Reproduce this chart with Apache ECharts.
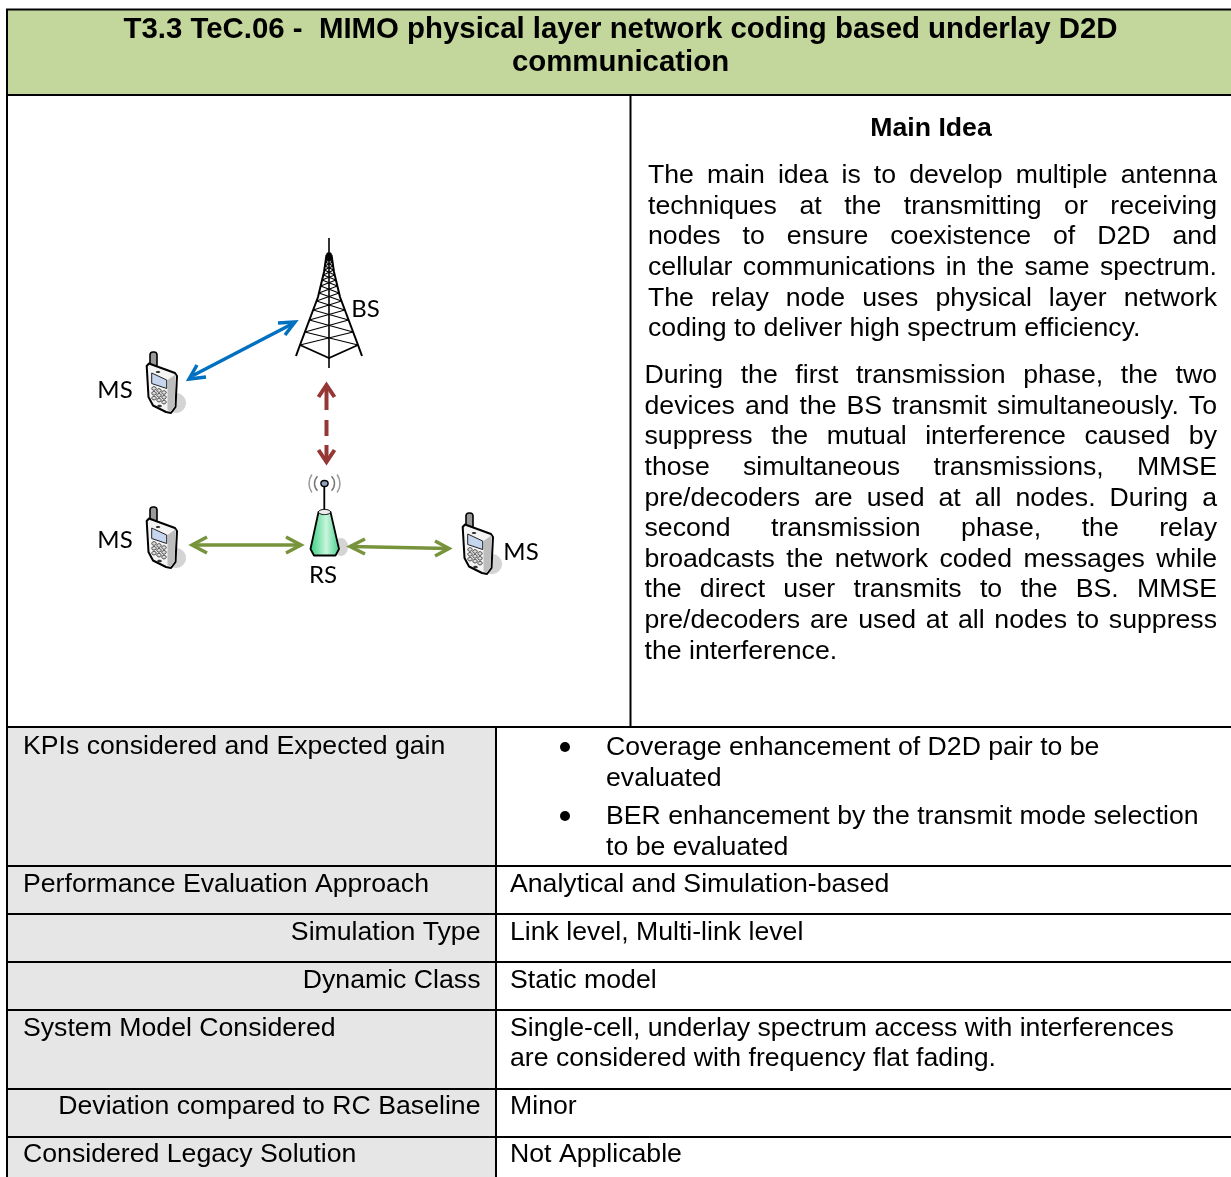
<!DOCTYPE html>
<html lang="en">
<head>
<meta charset="UTF-8">
<title>T3.3 TeC.06</title>
<script src="https://cdn.jsdelivr.net/npm/echarts@6/dist/echarts.min.js"></script>
<style>
html, body { margin: 0; padding: 0; background: #fff; }
#main { width: 1231px; height: 1177px; }
</style>
</head>
<body>
<div id="main"></div>
<script>
// texts of the sheet
var titleLines = ['T3.3 TeC.06 -  MIMO physical layer network coding based underlay D2D', 'communication'];
var ideaHeading = 'Main Idea';
var ideaFirst = [
  'The main idea is to develop multiple antenna',
  'techniques at the transmitting or receiving',
  'nodes to ensure coexistence of D2D and',
  'cellular communications in the same spectrum.',
  'The relay node uses physical layer network',
  'coding to deliver high spectrum efficiency.'
];
var ideaSecond = [
  'During the first transmission phase, the two',
  'devices and the BS transmit simultaneously. To',
  'suppress the mutual interference caused by',
  'those simultaneous transmissions, MMSE',
  'pre/decoders are used at all nodes. During a',
  'second transmission phase, the relay',
  'broadcasts the network coded messages while',
  'the direct user transmits to the BS. MMSE',
  'pre/decoders are used at all nodes to suppress',
  'the interference.'
];
var rowLabels = ['KPIs considered and Expected gain', 'Performance Evaluation Approach', 'Simulation Type', 'Dynamic Class', 'System Model Considered', 'Deviation compared to RC Baseline', 'Considered Legacy Solution'];
var rowAligns = ['left', 'left', 'right', 'right', 'left', 'right', 'left'];
var rowBaselines = [754, 892, 940, 988, 1036, 1114, 1162];
var rowValues = [
  ['Analytical and Simulation-based'],
  ['Link level, Multi-link level'],
  ['Static model'],
  ['Single-cell, underlay spectrum access with interferences', 'are considered with frequency flat fading.'],
  ['Minor'],
  ['Not Applicable']
];
var bulletLines = ['Coverage enhancement of D2D pair to be', 'evaluated', 'BER enhancement by the transmit mode selection', 'to be evaluated'];
var bulletBaselines = [755, 786, 824, 855];
var rowEdges = [727, 866, 914, 962, 1010, 1089, 1137, 1177];

// diagram labels and where the phones sit
var nodeLabels = [['MS', 115, 390], ['BS', 365.5, 309], ['MS', 115, 540], ['MS', 521, 552], ['RS', 323, 575]];
var phoneOffsets = [[0, 0], [0, 155], [316, 161]];
var towerLevels = [258, 262, 266, 270, 275, 280, 286, 293, 301, 310, 320, 332, 345];
var towerLeg = [[255, 2.5], [272, 5], [297, 11], [345, 29], [356, 33]];

var FONT = '"Liberation Sans", Arial, sans-serif';
var bodyFont = '26.67px ' + FONT;
var boldFont = 'bold 26.67px ' + FONT;
var titleFont = 'bold 29.4px ' + FONT;
var measure = document.createElement('canvas').getContext('2d');

var els = [];

function rect(x, y, w, h, fill) {
  els.push({ type: 'rect', shape: { x: x, y: y, width: w, height: h }, style: { fill: fill }, silent: true });
}
function line(x1, y1, x2, y2, color, width, dash) {
  var st = { stroke: color, lineWidth: width, lineCap: 'butt' };
  if (dash) st.lineDash = dash;
  els.push({ type: 'line', shape: { x1: x1, y1: y1, x2: x2, y2: y2 }, style: st, silent: true });
}
// y is the baseline; zrender only knows top/middle/bottom so go through middle
function text(str, x, y, font, align) {
  var size = parseFloat(font.replace('bold ', ''));
  els.push({ type: 'text', style: { text: str, x: x, y: y - size * 0.27, font: font, fill: '#000', textAlign: align || 'left', textVerticalAlign: 'middle' }, silent: true });
}
// Word style justify: spread the words of one line between left and right
function justified(str, left, right, y, font) {
  var words = str.split(' ');
  measure.font = font;
  var total = 0;
  words.forEach(function (w) { total += measure.measureText(w).width; });
  var gap = (right - left - total) / (words.length - 1);
  var x = left;
  words.forEach(function (w) {
    text(w, x, y, font);
    x += measure.measureText(w).width + gap;
  });
}
function poly(points, fill, stroke, width) {
  return { type: 'polygon', shape: { points: points }, style: { fill: fill || 'none', stroke: stroke || 'none', lineWidth: width || 1, lineJoin: 'round' }, silent: true };
}
function open(points, stroke, width) {
  return { type: 'polyline', shape: { points: points }, style: { fill: 'none', stroke: stroke, lineWidth: width, lineJoin: 'miter', lineCap: 'butt' }, silent: true };
}

// table
rect(8, 10, 1223, 85, '#C3D69B');
var r;
for (r = 0; r < 7; r++) rect(8, rowEdges[r], 488, rowEdges[r + 1] - rowEdges[r], '#E6E6E6');
line(7, 9, 7, 1177, '#000', 2);
line(6, 9.5, 1231, 9.5, '#000', 2);
line(7, 95, 1231, 95, '#000', 2);
rowEdges.slice(0, 7).forEach(function (y) { line(7, y, 1231, y, '#000', 2); });
line(630.5, 95, 630.5, 727, '#000', 2);
line(496, 727, 496, 1177, '#000', 2);

// title and main idea
text(titleLines[0], 620.5, 38, titleFont, 'center');
text(titleLines[1], 620.5, 71, titleFont, 'center');
text(ideaHeading, 931, 136, boldFont, 'center');
ideaFirst.forEach(function (s, i) {
  var y = 183 + i * 30.6;
  if (i === ideaFirst.length - 1) text(s, 648, y, bodyFont);
  else justified(s, 648, 1217, y, bodyFont);
});
ideaSecond.forEach(function (s, i) {
  var y = 383 + i * 30.6;
  if (i === ideaSecond.length - 1) text(s, 644.5, y, bodyFont);
  else justified(s, 644.5, 1217, y, bodyFont);
});

// rows
rowLabels.forEach(function (s, i) {
  if (rowAligns[i] === 'right') text(s, 480.5, rowBaselines[i], bodyFont, 'right');
  else text(s, 23, rowBaselines[i], bodyFont);
});
bulletLines.forEach(function (s, i) { text(s, 606, bulletBaselines[i], bodyFont); });
[747, 816].forEach(function (y) {
  els.push({ type: 'circle', shape: { cx: 565, cy: y, r: 5 }, style: { fill: '#000' }, silent: true });
});
rowValues.forEach(function (lines, i) {
  lines.forEach(function (s, j) { text(s, 510, rowBaselines[i + 1] + j * 30, bodyFont); });
});

// phone icon, drawn at the first phone's place and moved by an offset
function phone(dx, dy) {
  var kids = [];
  kids.push({ type: 'ellipse', shape: { cx: 176, cy: 403, rx: 10, ry: 10 }, style: { fill: '#D4D4D4' }, silent: true });
  kids.push({ type: 'rect', shape: { x: 150, y: 352, width: 7, height: 16, r: 3 }, style: { fill: '#9A9A9A', stroke: '#000', lineWidth: 1.6 }, silent: true });
  kids.push(poly([[146.7, 366], [149, 363.5], [175, 373], [177, 376], [175.5, 407], [171, 413], [166, 412], [153, 405.5], [148.5, 397]], '#F4F4F4', '#000', 2));
  kids.push(poly([[167.5, 380], [175.5, 374.5], [174.5, 406.5], [170.5, 411.5], [167.5, 410]], '#BDBDBD', null));
  kids.push(poly([[151.7, 373], [166.7, 380], [166.7, 388.5], [151.7, 383.5]], '#C5D6EE', '#222', 1));
  [[154, 388.5], [159, 390.5], [164, 392.5]].forEach(function (p) {
    for (var k = 0; k < 3; k++) {
      kids.push({ type: 'ellipse', shape: { cx: p[0], cy: p[1] + k * 4.8, rx: 2.2, ry: 1.8 }, style: { fill: '#DDD', stroke: '#333', lineWidth: 0.9 }, silent: true });
    }
  });
  kids.push({ type: 'ellipse', shape: { cx: 159.5, cy: 406, rx: 2.4, ry: 1.3 }, style: { fill: '#333' }, silent: true });
  kids.push({ type: 'ellipse', shape: { cx: 158, cy: 372, rx: 2.2, ry: 1 }, style: { fill: '#333' }, silent: true });
  els.push({ type: 'group', x: dx, y: dy, children: kids, silent: true });
}
phoneOffsets.forEach(function (o) { phone(o[0], o[1]); });

// tower, half width of the legs read at a few heights
function legHalf(y) {
  for (var i = 0; i < towerLeg.length - 1; i++) {
    var a = towerLeg[i], b = towerLeg[i + 1];
    if (y <= b[0]) return a[1] + (b[1] - a[1]) * (y - a[0]) / (b[0] - a[0]);
  }
  return towerLeg[towerLeg.length - 1][1];
}
var TX = 329;
line(TX, 238, TX, 368, '#000', 1.6);
els.push(open(towerLeg.map(function (p) { return [TX - p[1], p[0]]; }), '#000', 2));
els.push(open(towerLeg.map(function (p) { return [TX + p[1], p[0]]; }), '#000', 2));
els.push(poly([[TX - 3, 260], [TX - 2, 253], [TX + 2, 253], [TX + 3, 260]], '#000', '#000', 1));
towerLevels.forEach(function (y, i) {
  if (i === towerLevels.length - 1) return;
  var yn = towerLevels[i + 1];
  line(TX - legHalf(y), y, TX + legHalf(yn), yn, '#000', 1.1);
  line(TX + legHalf(y), y, TX - legHalf(yn), yn, '#000', 1.1);
});
els.push(open([[TX - legHalf(345), 345], [TX, 358], [TX + legHalf(345), 345]], '#000', 1.8));

// relay station
els.push({ type: 'ellipse', shape: { cx: 341, cy: 547, rx: 7, ry: 9 }, style: { fill: '#D4D4D4' }, silent: true });
line(324.3, 486, 324.3, 511, '#000', 1.8);
els.push({ type: 'ellipse', shape: { cx: 324.5, cy: 483.5, rx: 3.6, ry: 3 }, style: { fill: '#8FA3C0', stroke: '#000', lineWidth: 1.4 }, silent: true });
[[10, 0.8, '#777'], [15.5, 0.62, '#999']].forEach(function (a) {
  els.push({ type: 'arc', shape: { cx: 324.5, cy: 483.5, r: a[0], startAngle: -a[1], endAngle: a[1] }, style: { fill: 'none', stroke: a[2], lineWidth: 1.5 }, silent: true });
  els.push({ type: 'arc', shape: { cx: 324.5, cy: 483.5, r: a[0], startAngle: Math.PI - a[1], endAngle: Math.PI + a[1] }, style: { fill: 'none', stroke: a[2], lineWidth: 1.5 }, silent: true });
});
els.push({
  type: 'polygon',
  shape: { points: [[318.5, 512], [330.5, 512], [339, 549], [335.5, 555.5], [314, 555.5], [310.5, 549]] },
  style: {
    stroke: '#000', lineWidth: 1.8, lineJoin: 'round',
    fill: { type: 'linear', x: 0, y: 0, x2: 1, y2: 0, colorStops: [{ offset: 0, color: '#2FD07C' }, { offset: 0.55, color: '#C9F5DD' }, { offset: 1, color: '#3FCF88' }] }
  },
  silent: true
});
els.push({ type: 'ellipse', shape: { cx: 324.5, cy: 512, rx: 6, ry: 2.6 }, style: { fill: '#EDEDED', stroke: '#000', lineWidth: 1 }, silent: true });

// arrows
function arrowHeads(pts, color, width) { pts.forEach(function (p) { els.push(open(p, color, width)); }); }
line(192, 376, 292, 324, '#0070C0', 3.5);
arrowHeads([[[197, 365], [189, 379], [206, 377]], [[278, 323], [295, 322], [285, 335]]], '#0070C0', 3.5);
line(194, 545, 300, 545, '#77933C', 3.5);
arrowHeads([[[207, 537], [192, 545], [207, 553]], [[286, 537], [301, 545], [286, 553]]], '#77933C', 3.5);
line(351, 546.5, 448, 548.5, '#77933C', 3.5);
arrowHeads([[[365, 539], [350, 546.5], [365, 554]], [[435, 541], [449, 548.5], [435, 556]]], '#77933C', 3.5);
line(326.5, 386, 326.5, 410, '#953735', 4);
line(326.5, 420, 326.5, 436, '#953735', 4);
line(326.5, 445, 326.5, 461, '#953735', 4);
arrowHeads([[[318.5, 397], [326.5, 385], [334.5, 397]], [[318.5, 450], [326.5, 462], [334.5, 450]]], '#953735', 4);

nodeLabels.forEach(function (n) {
  els.push({ type: 'text', style: { text: n[0], x: n[1], y: n[2], font: '24px Lato, "Noto Sans", sans-serif', fill: '#000', textAlign: 'center', textVerticalAlign: 'middle' }, silent: true });
});

var myChart = echarts.init(document.getElementById('main'), null, { renderer: 'canvas' });
myChart.setOption({ backgroundColor: '#fff', animation: false, graphic: { elements: els } });
</script>
</body>
</html>
